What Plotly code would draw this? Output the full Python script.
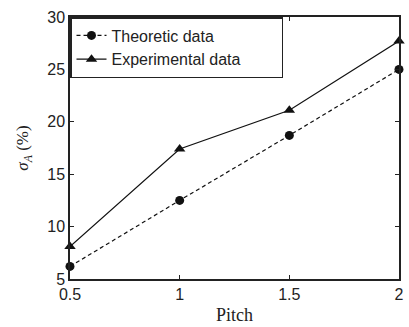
import plotly.graph_objects as go

pitch = [0.5, 1.0, 1.5, 2.0]
theoretic = [6.2, 12.5, 18.7, 25.0]
experimental = [8.1, 17.4, 21.1, 27.7]
x_ticks = [0.5, 1, 1.5, 2]
x_tick_text = ["0.5", "1", "1.5", "2"]
y_ticks = [5, 10, 15, 20, 25, 30]
series_names = ["Theoretic data", "Experimental data"]

pad = "\u00a0" * 8  # widen legend box like the reference

fig = go.Figure()
fig.add_trace(go.Scatter(
    x=pitch, y=theoretic, mode="lines+markers", name=series_names[0],
    line=dict(color="#111", width=1.2, dash="4px,3px"),
    marker=dict(symbol="circle", size=9, color="#111"),
    cliponaxis=False,
))
fig.add_trace(go.Scatter(
    x=pitch, y=experimental, mode="lines+markers", name=series_names[1] + pad,
    line=dict(color="#111", width=1.2),
    marker=dict(symbol="triangle-up", size=10, color="#111"),
    cliponaxis=False,
))

axis_common = dict(
    showgrid=False, zeroline=False, showline=True, linecolor="#222", linewidth=1.5,
    mirror="ticks", ticks="inside", ticklen=4, tickcolor="#222",
    tickfont=dict(family="Liberation Sans, Arial", size=16, color="#222"),
)
fig.update_xaxes(range=[0.5, 2], tickvals=x_ticks, ticktext=x_tick_text,
                 title=dict(text="Pitch", font=dict(family="Liberation Serif, Times New Roman", size=18, color="#222"), standoff=6),
                 **axis_common)
fig.update_yaxes(range=[5, 30], tickvals=y_ticks,
                 title=dict(text="<i>σ<sub>A</sub></i> (%)", font=dict(family="Liberation Serif, Times New Roman", size=17, color="#222"), standoff=14),
                 **axis_common)

fig.update_layout(
    width=409, height=327,
    margin=dict(l=70, r=5, t=17, b=46),
    paper_bgcolor="white", plot_bgcolor="white",
    showlegend=True,
    legend=dict(x=0, y=1, xanchor="left", yanchor="top", bgcolor="white",
                bordercolor="#222", borderwidth=1.5,
                font=dict(family="Liberation Sans, Arial", size=16, color="#222"),
                tracegroupgap=0),
)
fig.write_html("out.html")
